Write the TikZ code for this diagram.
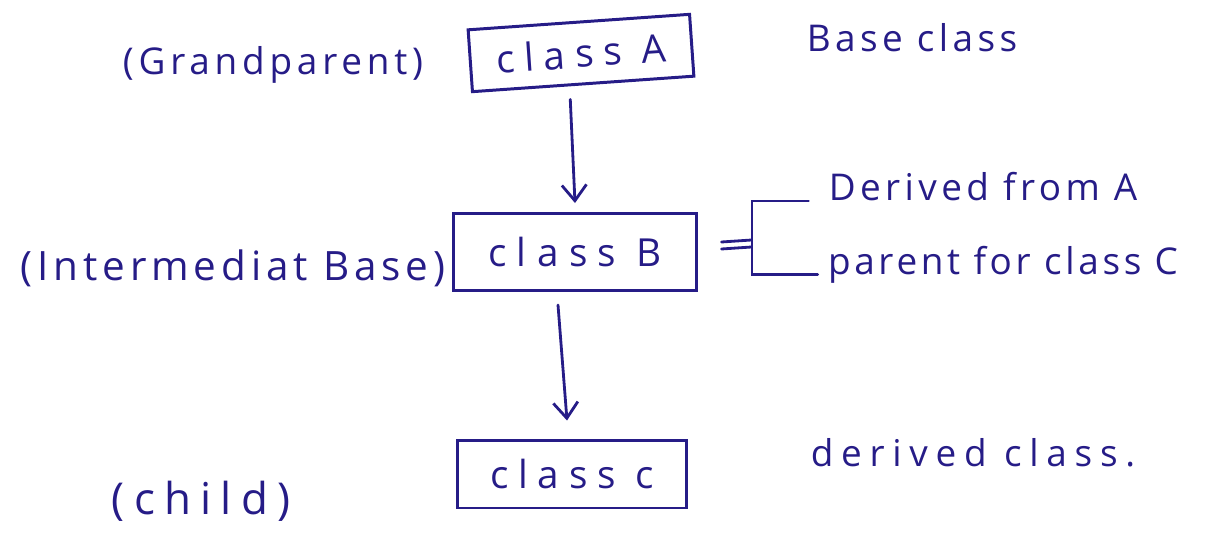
\documentclass[tikz,border=0pt]{standalone}
\usepackage{fontspec}
\setmainfont{Open Sans}
\usepackage{tikz}
\usetikzlibrary{arrows.meta,shapes}
\definecolor{ink}{RGB}{38,28,135}
\tikzstyle{class box}=[draw=ink, line width=1.7pt, rectangle, inner sep=0pt, text=ink]
\tikzstyle{note}=[draw=none, text=ink, inner sep=0pt, align=center]
\tikzstyle{pen}=[draw=ink, line width=1.6pt, line cap=round]
\tikzstyle{flow}=[pen, -{Straight Barb[length=9pt,width=14pt,line width=1.6pt]}]
\newcommand{\hand}[2]{\fontsize{#1}{#1}\selectfont\addfontfeature{LetterSpace=#2}}

\begin{document}
\begin{tikzpicture}[x=0.02cm, y=-0.02cm]
		\useasboundingbox (0,0) rectangle (1207,537);
		% First the three classes
		\node[class box, minimum width=4.44cm, minimum height=1.24cm, rotate=4, font=\hand{22pt}{25}] (A) at (581,53) {class A};
		\node[class box, minimum width=4.88cm, minimum height=1.54cm, font=\hand{22pt}{27}] (B) at (575,252) {class B};
		\node[class box, minimum width=4.60cm, minimum height=1.36cm, font=\hand{22pt}{25}] (C) at (572,474) {class c};
		
		% Roles on the left, notes on the right
		\node[note, font=\hand{21pt}{13}] (grand) at (273,65) {(Grandparent)};
		\node[note, font=\hand{23pt}{12}] (inter) at (233,268) {(Intermediat Base)};
		\node[note, font=\hand{25pt}{21}] (child) at (201,501) {(child)};
		\node[note, font=\hand{21pt}{12}] (base) at (912,38) {Base class};
		\node[note, font=\hand{21pt}{12}] (derA) at (983,187) {Derived from A};
		\node[note, font=\hand{21pt}{10}] (parC) at (1003,265) {parent for class C};
		\node[note, font=\hand{21pt}{21}] (derived) at (973,453) {derived class.};
		
		% Arrows down the chain
		\draw[flow] ([shift={(-13,14)}]A.south) -- ([shift={(0,-9)}]B.north);
		\draw[flow] ([shift={(-17,13)}]B.south) -- ([shift={(-5,-18)}]C.north);
		
		% Equals sign and bracket beside class B
		\foreach \dy in {-10,-3}
		\draw[pen] ([shift={(23,\dy)}]B.east) -- ++(30,-2);
		\coordinate (fork) at (752,245);
		\draw[pen] ([xshift=-0.4cm]derA.base west) -| (fork) |- ([xshift=-0.2cm]parC.base west);
\end{tikzpicture}
\end{document}
